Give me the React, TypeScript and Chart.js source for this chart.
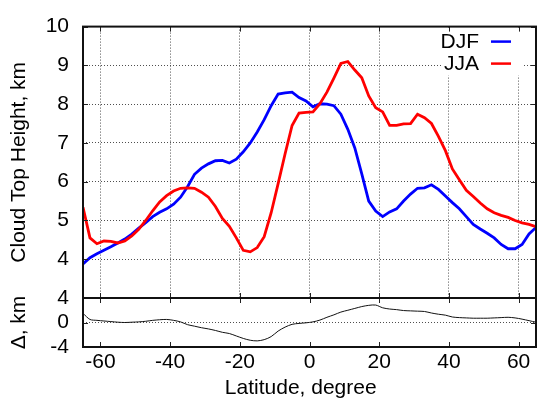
import React, { useEffect, useRef } from 'react';
import { Chart, registerables } from 'chart.js';

Chart.register(...registerables);

const FONT = "'Liberation Sans', Arial, Helvetica, sans-serif";
const FS = 21;

const latitudes = [
  -65, -63, -61, -59, -57, -55, -53, -51, -49, -47, -45, -43, -41, -39, -37, -35, -33, -31, -29, -27,
  -25, -23, -21, -19, -17, -15, -13, -11, -9, -7, -5, -3, -1, 1, 3, 5, 7, 9, 11, 13,
  15, 17, 19, 21, 23, 25, 27, 29, 31, 33, 35, 37, 39, 41, 43, 45, 47, 49, 51, 53,
  55, 57, 59, 61, 63, 65,
];

const djf = [
  3.88, 4.04, 4.14, 4.23, 4.32, 4.42, 4.52, 4.65, 4.8, 4.94, 5.1, 5.21, 5.3, 5.42, 5.6, 5.87, 6.19, 6.35, 6.46, 6.54,
  6.55, 6.48, 6.58, 6.77, 7.0, 7.28, 7.6, 7.96, 8.26, 8.29, 8.31, 8.17, 8.08, 7.93, 8.01, 8.0, 7.96, 7.74, 7.35, 6.87,
  6.2, 5.5, 5.24, 5.1, 5.22, 5.3, 5.5, 5.68, 5.83, 5.84, 5.92, 5.8, 5.63, 5.46, 5.3, 5.1, 4.9, 4.78, 4.67, 4.55,
  4.38, 4.27, 4.27, 4.38, 4.65, 4.82,
];

const jja = [
  5.34, 4.55, 4.4, 4.47, 4.46, 4.42, 4.47, 4.6, 4.77, 5.0, 5.25, 5.48, 5.64, 5.76, 5.83, 5.84, 5.83, 5.73, 5.6, 5.36,
  5.05, 4.85, 4.55, 4.23, 4.19, 4.3, 4.58, 5.2, 5.95, 6.72, 7.45, 7.77, 7.79, 7.8, 8.01, 8.31, 8.67, 9.05, 9.1, 8.88,
  8.68, 8.21, 7.91, 7.8, 7.45, 7.45, 7.49, 7.5, 7.74, 7.65, 7.5, 7.17, 6.8, 6.33, 6.05, 5.78, 5.62, 5.45, 5.3, 5.2,
  5.13, 5.08, 5.0, 4.94, 4.9, 4.84,
];

const delta = [
  1.5, 0.5, 0.35, 0.25, 0.15, 0.05, 0.0, 0.05, 0.1, 0.2, 0.35, 0.45, 0.5, 0.35, 0.1, -0.35, -0.6, -0.85, -1.05, -1.3,
  -1.6, -1.8, -2.2, -2.6, -2.9, -3.0, -2.8, -2.3, -1.4, -0.75, -0.3, -0.15, -0.05, 0.1, 0.4, 0.85, 1.25, 1.7, 2.0, 2.3,
  2.6, 2.8, 2.85, 2.4, 2.2, 2.1, 1.95, 1.9, 1.85, 1.8, 1.55, 1.35, 1.2, 0.9, 0.8, 0.75, 0.7, 0.7, 0.7, 0.75,
  0.8, 0.85, 0.75, 0.55, 0.3, 0.05,
];

const xTicks = [-60, -40, -20, 0, 20, 40, 60];
const topYTicks = [4, 5, 6, 7, 8, 9, 10];
const deltaYTicks = [-4, 0, 4];

const seriesLabels = ['DJF', 'JJA'];
const seriesColors = ['#0000ff', '#ff0000'];

const GRID = 'rgba(60,60,60,0.9)';

const toPoints = (ys: number[]) => latitudes.map((x, i) => ({ x, y: ys[i] }));

const framePlugin = {
  id: 'frame',
  afterDraw(chart: any) {
    const { ctx, chartArea } = chart;
    const { left, right, top, bottom } = chartArea;
    const L = 5;
    ctx.save();
    ctx.strokeStyle = '#222';
    ctx.lineWidth = 1;
    ctx.setLineDash([]);
    const xs = chart.scales.x;
    xs.ticks.forEach((t: any) => {
      const px = Math.round(xs.getPixelForValue(t.value)) + 0.5;
      ctx.beginPath();
      ctx.moveTo(px, top);
      ctx.lineTo(px, top + L);
      ctx.moveTo(px, bottom);
      ctx.lineTo(px, bottom - L);
      ctx.stroke();
    });
    const ys = chart.scales.y;
    ys.ticks.forEach((t: any) => {
      const py = Math.round(ys.getPixelForValue(t.value)) + 0.5;
      ctx.beginPath();
      ctx.moveTo(left, py);
      ctx.lineTo(left + L, py);
      ctx.moveTo(right, py);
      ctx.lineTo(right - L, py);
      ctx.stroke();
    });
    ctx.strokeStyle = '#111';
    ctx.lineWidth = 2;
    ctx.strokeRect(left, top, right - left, bottom - top);
    ctx.restore();
  },
};

const legendPlugin = {
  id: 'innerLegend',
  afterDatasetsDraw(chart: any) {
    const { ctx, chartArea } = chart;
    const { right, top } = chartArea;
    ctx.save();
    ctx.fillStyle = '#ffffff';
    ctx.fillRect(right - 95, top + 2, 83, 47);
    ctx.font = `${FS}px ${FONT}`;
    ctx.textAlign = 'right';
    ctx.textBaseline = 'middle';
    chart.data.datasets.forEach((ds: any, i: number) => {
      const y = top + 15 + 22 * i;
      ctx.fillStyle = '#000';
      ctx.fillText(ds.label, right - 57, y + 1);
      ctx.strokeStyle = ds.borderColor;
      ctx.lineWidth = 2.5;
      ctx.beginPath();
      ctx.moveTo(right - 45, y);
      ctx.lineTo(right - 25, y);
      ctx.stroke();
    });
    ctx.restore();
  },
};

export default function App() {
  const topRef = useRef<HTMLCanvasElement>(null);
  const botRef = useRef<HTMLCanvasElement>(null);

  useEffect(() => {
    Chart.defaults.font.family = FONT;
    Chart.defaults.font.size = FS;
    Chart.defaults.color = '#000';

    const topChart = new Chart(topRef.current!, {
      type: 'line',
      data: {
        datasets: [
          {
            label: seriesLabels[0],
            data: toPoints(djf),
            borderColor: seriesColors[0],
            borderWidth: 2.8,
            pointRadius: 0,
            tension: 0,
            fill: false,
            order: 1,
          },
          {
            label: seriesLabels[1],
            data: toPoints(jja),
            borderColor: seriesColors[1],
            borderWidth: 2.8,
            pointRadius: 0,
            tension: 0,
            fill: false,
            order: 0,
          },
        ],
      },
      options: {
        animation: false,
        responsive: false,
        devicePixelRatio: 1,
        layout: { padding: { top: 23, right: 1, bottom: 108, left: 0 } },
        plugins: { legend: { display: false }, tooltip: { enabled: false } },
        scales: {
          x: {
            type: 'linear',
            min: -65,
            max: 65,
            afterBuildTicks: (s: any) => {
              s.ticks = xTicks.map((v) => ({ value: v }));
            },
            ticks: { display: false },
            grid: { color: GRID, lineWidth: 1, drawTicks: false },
            border: { display: false, dash: [1, 2] },
            afterFit: (s: any) => {
              s.height = 0;
            },
          },
          y: {
            type: 'linear',
            min: 3,
            max: 10,
            afterBuildTicks: (s: any) => {
              s.ticks = topYTicks.map((v) => ({ value: v }));
            },
            ticks: { padding: 14, color: '#000', font: { size: FS }, autoSkip: false },
            grid: { color: GRID, lineWidth: 1, drawTicks: false },
            border: { display: false, dash: [1, 2] },
            title: {
              display: true,
              text: 'Cloud Top Height, km',
              color: '#000',
              font: { size: FS },
              padding: { top: 7, bottom: 0 },
            },
            afterFit: (s: any) => {
              s.width = 83;
            },
          },
        },
      },
      plugins: [legendPlugin, framePlugin],
    } as any);

    const botChart = new Chart(botRef.current!, {
      type: 'line',
      data: {
        datasets: [
          {
            label: 'Δ',
            data: toPoints(delta),
            borderColor: '#111',
            borderWidth: 1,
            pointRadius: 0,
            tension: 0.3,
            fill: false,
          },
        ],
      },
      options: {
        animation: false,
        responsive: false,
        devicePixelRatio: 1,
        layout: { padding: { top: 298, right: 1, bottom: 0, left: 0 } },
        plugins: { legend: { display: false }, tooltip: { enabled: false } },
        scales: {
          x: {
            type: 'linear',
            min: -65,
            max: 65,
            afterBuildTicks: (s: any) => {
              s.ticks = xTicks.map((v) => ({ value: v }));
            },
            ticks: { padding: 3, color: '#000', font: { size: FS }, maxRotation: 0, autoSkip: false },
            grid: { display: false, drawTicks: false },
            border: { display: false },
            title: {
              display: true,
              text: 'Latitude, degree   ',
              color: '#000',
              font: { size: FS },
              padding: { top: 0, bottom: 5 },
            },
            afterFit: (s: any) => {
              s.height = 59;
            },
          },
          y: {
            type: 'linear',
            min: -4,
            max: 4,
            afterBuildTicks: (s: any) => {
              s.ticks = deltaYTicks.map((v) => ({ value: v }));
            },
            ticks: { padding: 14, color: '#000', font: { size: FS }, autoSkip: false },
            grid: {
              color: (c: any) => (c.tick && c.tick.value === 0 ? GRID : 'rgba(0,0,0,0)'),
              lineWidth: 1,
              drawTicks: false,
            },
            border: { display: false, dash: [1, 2] },
            title: {
              display: true,
              text: 'Δ, km',
              color: '#000',
              font: { size: FS },
              padding: { top: 7, bottom: 0 },
            },
            afterFit: (s: any) => {
              s.width = 83;
            },
          },
        },
      },
      plugins: [framePlugin],
    } as any);

    return () => {
      topChart.destroy();
      botChart.destroy();
    };
  }, []);

  const canvasStyle: React.CSSProperties = { position: 'absolute', left: 0, top: 0 };
  return (
    <div style={{ position: 'absolute', left: 0, top: 0, width: 537, height: 406, background: '#fff' }}>
      <canvas ref={topRef} width={537} height={406} style={canvasStyle} />
      <canvas ref={botRef} width={537} height={406} style={canvasStyle} />
    </div>
  );
}
